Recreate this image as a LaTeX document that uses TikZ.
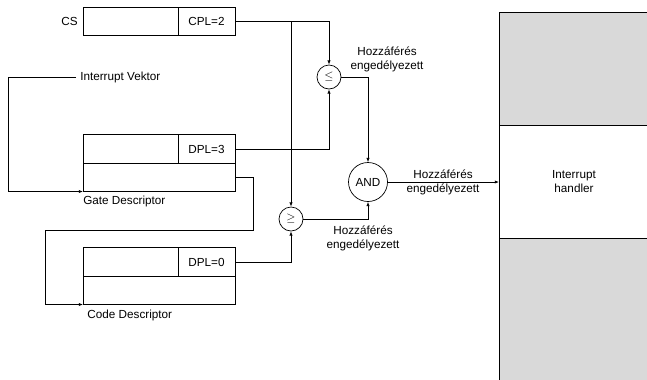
\documentclass[tikz,border=0pt]{standalone}
\usepackage{fontspec}
\setmainfont{Liberation Sans}
\usetikzlibrary{arrows.meta,positioning}
\definecolor{memgray}{HTML}{D9D9D9}

\begin{document}
\begin{tikzpicture}[x=0.03cm,y=-0.03cm,line width=0.6pt,font=\fontsize{10}{12}\selectfont,
  cell/.style={draw,inner sep=0pt,outer sep=0pt,minimum height=0.85cm},
  widecell/.style={cell,minimum width=2.85cm},
  smallcell/.style={cell,minimum width=1.71cm},
  lowcell/.style={cell,minimum width=4.56cm},
  memcell/.style={draw,inner sep=0pt,outer sep=0pt,minimum width=4.5cm,minimum height=3.39cm},
  cmp/.style={draw,circle,inner sep=0pt,minimum size=0.72cm},
  note/.style={align=center},
  arr/.style={-{Latex[length=3.6pt,width=2.8pt]}}]
\useasboundingbox (0,0) rectangle (647,379);
% CS register
\node[widecell] (cs) at (130.5,21.5) {};
\node[smallcell,right=0pt of cs] (cpl) {CPL=2};
\node[left=1pt of cs] (cslbl) {CS};
\node[anchor=west] (ivlbl) at (76,77) {Interrupt Vektor};
% gate descriptor
\node[widecell] (gate) at (130.5,149) {};
\node[smallcell,right=0pt of gate] (dpl3) {DPL=3};
\node[lowcell,below right=0pt and 0pt of gate.south west] (gatelow) {};
\node[inner sep=0pt,below right=3.5pt and 0pt of gatelow.south west] (gatelbl) {Gate Descriptor};
% code descriptor
\node[widecell] (code) at (130.5,262) {};
\node[smallcell,right=0pt of code] (dpl0) {DPL=0};
\node[lowcell,below right=0pt and 0pt of code.south west] (codelow) {};
\node[inner sep=0pt,below right=4pt and 3.5pt of codelow.south west] (codelbl) {Code Descriptor};
% comparators
\node[cmp] (le) at (329,77) {$\leq$};
\node[cmp] (ge) at (291,219) {$\geq$};
\node[cmp,minimum size=1.17cm] (and) at (368,182) {AND};
\node[note] (okle) at (387,59) {Hozzáférés\\engedélyezett};
\node[note] (okand) at (443,182) {Hozzáférés\\engedélyezett};
\node[note] (okge) at (363,238) {Hozzáférés\\engedélyezett};
% memory
\node[memcell,fill=memgray,anchor=north west] (memtop) at (499,12) {};
\node[memcell,fill=white,below=0pt of memtop,align=center] (handler) {Interrupt\\handler};
\node[memcell,fill=memgray,below=0pt of handler,minimum height=4.6cm] (membot) {};
% connectors
\draw[arr] (cpl.east) -| (le.north);
\draw[arr] (cpl.east -| ge.north) -- (ge.north);
\draw[arr] (dpl3.east) -| (le.south);
\draw[arr] (dpl0.east) -| (ge.south);
\draw[arr] (le.east) -| (and.north);
\draw[arr] (ge.east) -| (and.south);
\draw[arr] (and.east) -- (and.east -| handler.west);
\coordinate (vecbend) at (8,77);
\draw[arr] (ivlbl.west) -- (vecbend) |- (gatelow.south west);
\coordinate (linkA) at (253,230);
\coordinate (linkB) at (45,230);
\draw[arr] (gatelow.east) -| (linkA) -- (linkB) |- (codelow.south west);
\end{tikzpicture}
\end{document}
